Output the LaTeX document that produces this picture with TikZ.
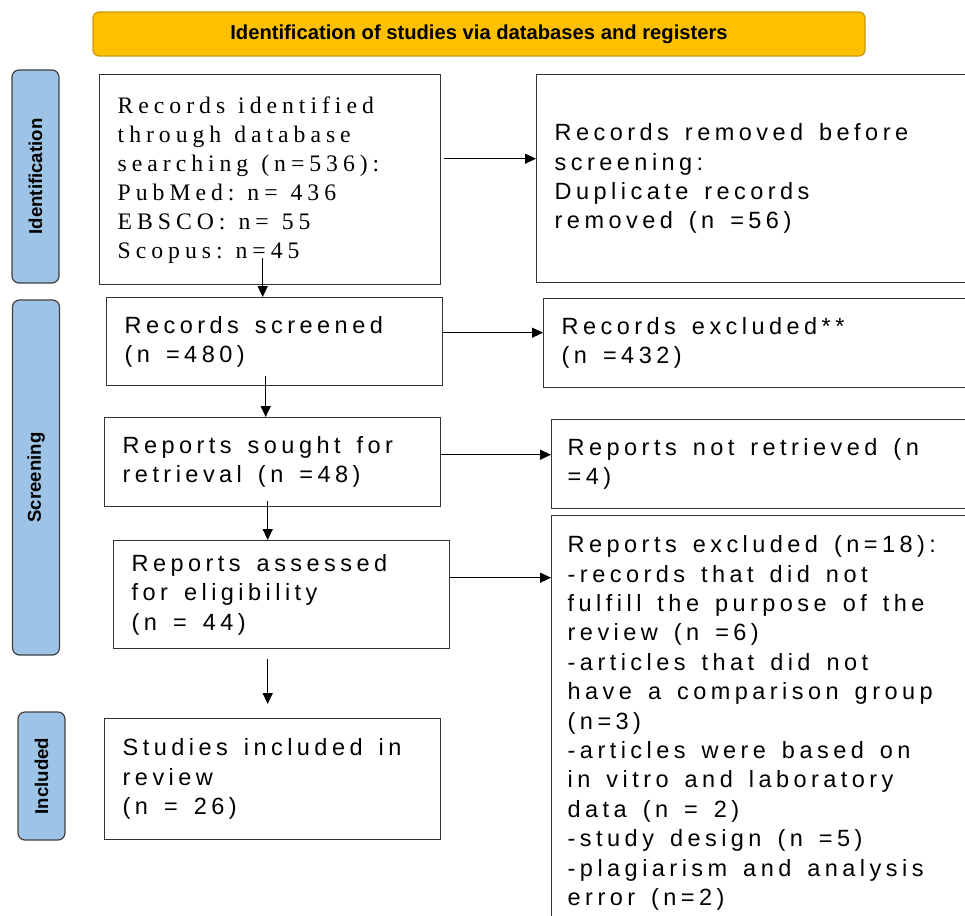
\documentclass[tikz,border=0pt]{standalone}
\usepackage{xcolor}
\usepackage{fontspec}
\setmainfont{Liberation Sans}
\newfontfamily\spacedsans[LetterSpace=19]{Liberation Sans}
\newfontfamily\spacedserif[LetterSpace=21]{Liberation Serif}
\newlength\wgapdim
\newcommand\wg{\hspace{\wgapdim}}
\protected\def\boxsans{\spacedsans\fontsize{23.5}{29.4}\selectfont\setlength\wgapdim{16pt}}
\protected\def\boxserif{\spacedserif\fontsize{23.7}{29}\selectfont\setlength\wgapdim{13pt}}
\usepackage{tikz}
\usetikzlibrary{arrows.meta,positioning}
\definecolor{stageblue}{HTML}{9DC3E6}
\definecolor{titleorange}{HTML}{FFC000}
\definecolor{titleedge}{HTML}{C99A10}

\begin{document}
\begin{tikzpicture}
  [
    x=1pt, y=-1pt,
    Title/.style={rectangle, rounded corners=6pt, draw=titleedge, fill=titleorange, line width=1.2pt, minimum width=772pt, minimum height=44pt, font=\bfseries\fontsize{20.2}{22}\selectfont},
    Stage/.style={rectangle, rounded corners=7pt, draw=black!75, fill=stageblue, line width=1.2pt, rotate=90, minimum height=47pt, font=\bfseries\fontsize{18.6}{21}\selectfont},
    Box/.style={rectangle, draw=black!80, line width=1.4pt, anchor=north west, align=left, inner xsep=18pt, inner ysep=0pt, font=\boxsans},
    Arrow/.style={-{Triangle[length=11pt,width=10pt]}, line width=1.3pt}
  ]
  \useasboundingbox (0,0) rectangle (965,915);

  % Header and stages
  \node[Title] (title) at (479,34) {Identification of studies via databases and registers};
  \node[Stage, minimum width=213pt] (ident) at (35.5,176.5) {Identification};
  \node[Stage, minimum width=355pt] (screen) at (36,477.5) {Screening};
  \node[Stage, minimum width=128pt] (incl) at (41.5,776) {Included};

  % Nodes
  \node[Box, text width=305pt, minimum height=210pt, font=\boxserif] (b1) at (99,74)
    {Records\wg identified\\through\wg database\\searching\wg (n=536):\\PubMed:\wg n=\wg 436\\EBSCO:\wg n=\wg 55\\Scopus:\wg n=45};
  \node[Box, text width=300pt, minimum height=88pt] (b2) at (106,297) {Records\wg screened\\(n\wg =480)};
  \node[Box, text width=300pt, minimum height=89pt] (b3) at (104,417) {Reports\wg sought\wg for\\retrieval\wg (n\wg =48)};
  \node[Box, text width=300pt, minimum height=108pt] (b4) at (113,540) {Reports\wg assessed\\for\wg eligibility\\(n\wg =\wg 44)};
  \node[Box, text width=300pt, minimum height=121pt] (b5) at (104,718) {Studies\wg included\wg in\\review\\(n\wg =\wg 26)};

  \node[Box, text width=464pt, minimum height=208pt] (r1) at (536,74)
    {Records\wg removed\wg before\\screening:\\Duplicate\wg records\\removed\wg (n\wg =56)};
  \node[Box, text width=464pt, minimum height=89pt] (r2) at (543,298) {Records\wg excluded**\\(n\wg =432)};
  \node[Box, text width=464pt, minimum height=89pt, inner xsep=16pt] (r3) at (551,419) {Reports\wg not\wg retrieved\wg (n\\=4)};
  \node[Box, text width=464pt, inner xsep=16pt, inner ysep=20pt] (r4) at (551,515)
    {Reports\wg excluded\wg (n=18):\\-records\wg that\wg did\wg not\\fulfill\wg the\wg purpose\wg of\wg the\\review\wg (n\wg =6)\\-articles\wg that\wg did\wg not\\have\wg a\wg comparison\wg group\\(n=3)\\-articles\wg were\wg based\wg on\\in\wg vitro\wg and\wg laboratory\\data\wg (n\wg =\wg 2)\\-study\wg design\wg (n\wg =5)\\-plagiarism\wg and\wg analysis\\error\wg (n=2)};

  % Lines
  \path [Arrow, draw] ([xshift=-7.5pt, yshift=27pt]b1.south) -- ([xshift=-7.5pt]b1.south |- b2.north);
  \path [Arrow, draw] ([xshift=-9pt, yshift=10pt]b2.south) -- ([xshift=-9pt]b2.south |- b3.north);
  \path [Arrow, draw] ([xshift=-5pt, yshift=6pt]b3.south) -- ([xshift=-5pt]b3.south |- b4.north);
  \path [Arrow, draw] ([xshift=-14pt, yshift=-10pt]b4.south) -- ([xshift=-5pt, yshift=14pt]b5.north);

  \path [Arrow, draw] ([xshift=3pt, yshift=21pt]b1.east) -- ([yshift=21pt]b1.east -| r1.west);
  \path [Arrow, draw] ([yshift=9pt]b2.east) -- ([yshift=9pt]b2.east -| r2.west);
  \path [Arrow, draw] ([yshift=7.5pt]b3.east) -- ([yshift=7.5pt]b3.east -| r3.west);
  \path [Arrow, draw] ([yshift=17pt]b4.east) -- ([yshift=17pt]b4.east -| r4.west);

\end{tikzpicture}
\end{document}
